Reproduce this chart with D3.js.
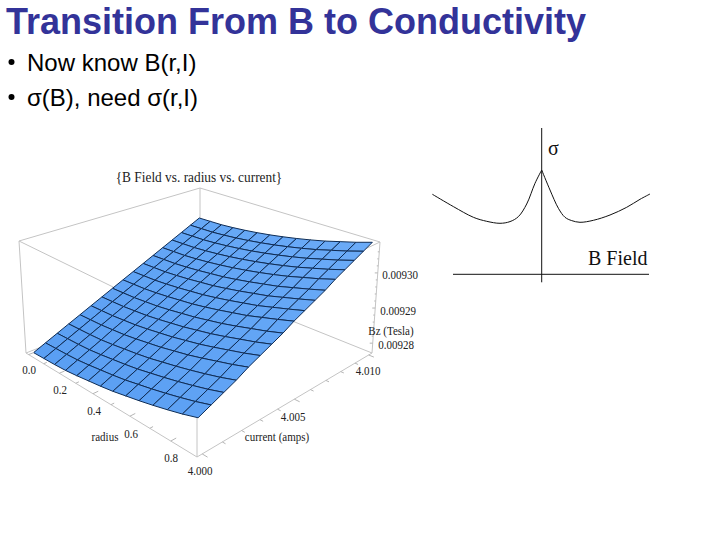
<!DOCTYPE html>
<html><head><meta charset="utf-8">
<script src="https://cdn.jsdelivr.net/npm/d3@7"></script>
<style>html,body{margin:0;padding:0;background:#fff}svg{display:block}</style>
</head><body><svg id="c" width="720" height="540"></svg>
<script>
const titleText = "Transition From B to Conductivity";
const bullets = ["Now know B(r,I)", "σ(B), need σ(r,I)"];
const plotTitle = "{B Field vs. radius vs. current}";

// surface: radius and current samples, Bz stored as 1e-7 T above 0.0092 T
const radiusTicksMajor = [0, 0.2, 0.4, 0.6, 0.8];
const radiusTicksMinor = [0.1, 0.3, 0.5, 0.7];
const currentTicksMajor = [4.000, 4.005, 4.010];
const currentTicksMinor = [4.001, 4.002, 4.003, 4.004, 4.006, 4.007, 4.008, 4.009];
const bzTicksMajor = [0.00928, 0.00929, 0.00930];
const bzTicksMinor = [0.009282, 0.009284, 0.009286, 0.009288, 0.009292, 0.009294, 0.009296, 0.009298, 0.009302, 0.009304, 0.009306];
const radiusSamples = [0, .0692, .1385, .2077, .2769, .3462, .4154, .4846, .5538, .6231, .6923, .7615, .8308, .9];
const currentSamples = [4, 4.000625, 4.00125, 4.001875, 4.0025, 4.003125, 4.00375, 4.004375, 4.005, 4.005625, 4.00625, 4.006875, 4.0075, 4.008125, 4.00875, 4.009375, 4.01];
const bzGrid = [
[772,773,774,776,780,785,790,796,804,812,821,831,842,855],
[786,787,788,790,794,799,804,810,818,826,835,845,856,869],
[800,801,802,804,808,813,818,824,832,840,849,859,870,883],
[814,815,816,818,822,827,832,838,846,854,863,873,884,897],
[828,829,830,833,836,841,847,853,861,869,879,890,901,914],
[842,843,844,847,850,855,861,867,875,883,893,904,915,928],
[856,857,858,861,864,869,875,881,889,897,907,918,929,942],
[870,871,872,875,878,883,889,895,903,911,921,932,943,956],
[884,885,886,889,893,898,903,910,918,927,936,948,960,973],
[898,899,900,903,907,912,917,924,932,941,950,962,974,987],
[912,913,914,917,921,926,931,938,946,955,964,976,988,1001],
[926,927,928,931,935,940,945,952,960,969,978,990,1002,1015],
[940,941,942,945,949,954,960,967,975,984,994,1006,1018,1032],
[954,955,956,959,963,968,974,981,989,998,1008,1020,1032,1046],
[968,969,970,973,977,982,988,995,1003,1012,1022,1034,1046,1060],
[982,983,984,987,991,996,1002,1009,1017,1026,1036,1048,1060,1074],
[996,997,998,1001,1005,1010,1016,1023,1031,1040,1050,1062,1074,1088]
];

// sigma vs B sketch
const fieldLeft  = [-1.093,-.883,-.683,-.55,-.417,-.317,-.233,-.15,-.067,0];
const sigmaLeft  = [.80,.677,.57,.53,.51,.527,.577,.703,.91,1.043];
const fieldRight = [0,.083,.167,.233,.3,.383,.517,.683,.85,.983,1.083];
const sigmaRight = [1.043,.843,.66,.57,.537,.52,.54,.593,.67,.75,.803];

const svg = d3.select("#c");
const serif = "'Liberation Serif','Times New Roman',serif";
const sans = "'Liberation Sans',Arial,sans-serif";
const defs = svg.append("defs");
defs.append("filter").attr("id","soft").append("feGaussianBlur").attr("stdDeviation",0.35);

svg.append("text").attr("x",6).attr("y",33.5).attr("font-family",sans).attr("font-weight","bold")
  .attr("font-size",36).attr("fill","#333399").text(titleText);
svg.selectAll("text.b").data(bullets).enter().append("text").attr("class","b")
  .attr("x",27).attr("y",(d,i)=>[71,105.5][i]).attr("font-family",sans).attr("font-size",24).attr("fill","#000").text(d=>d);
svg.selectAll("circle.b").data(bullets).enter().append("circle").attr("class","b")
  .attr("cx",11.5).attr("cy",(d,i)=>[62,97][i]).attr("r",3).attr("fill","#000");

function homography(q){ // unit square -> quad [00,10,11,01]
  const [[x0,y0],[x1,y1],[x2,y2],[x3,y3]] = q;
  const dx1=x1-x2, dx2=x3-x2, sx=x0-x1+x2-x3, dy1=y1-y2, dy2=y3-y2, sy=y0-y1+y2-y3;
  const den=dx1*dy2-dx2*dy1;
  const g=(sx*dy2-dx2*sy)/den, h=(dx1*sy-sx*dy1)/den;
  const a=x1-x0+g*x1, b=x3-x0+h*x3, d=y1-y0+g*y1, e=y3-y0+h*y3;
  return (u,v)=>{const w=g*u+h*v+1; return [(a*u+b*v+x0)/w,(d*u+e*v+y0)/w];};
}
const floorH = homography([[26,353],[197,457],[372,353],[200,284]]);
const ceilH  = homography([[19,241],[197,328],[380,242],[200,188]]);
const rS = d3.scaleLinear().domain([-0.018,0.918]).range([0,1]);
const iS = d3.scaleLinear().domain([3.99975,4.01025]).range([0,1]);
const zS = d3.scaleLinear().domain([0.0092772,0.0093088]).range([0,1]);
function proj(u,v,w){const a=floorH(u,v),b=ceilH(u,v);return [a[0]+(b[0]-a[0])*w,a[1]+(b[1]-a[1])*w];}
const bzAt=(j,i)=>0.0092+bzGrid[j][i]*1e-7;
const P=(i,j)=>proj(rS(radiusSamples[i]),iS(currentSamples[j]),zS(bzAt(j,i)));

const g3 = svg.append("g").attr("filter","url(#soft)");
const boxEdges = [
 [[0,0,0],[1,0,0]],[[1,0,0],[1,1,0]],[[1,1,0],[0,1,0]],[[0,1,0],[0,0,0]],
 [[0,0,1],[1,0,1]],[[1,0,1],[1,1,1]],[[1,1,1],[0,1,1]],[[0,1,1],[0,0,1]],
 [[0,0,0],[0,0,1]],[[1,0,0],[1,0,1]],[[1,1,0],[1,1,1]],[[0,1,0],[0,1,1]]];
const line=d3.line();
g3.selectAll("path.e").data(boxEdges).enter().append("path").attr("class","e")
  .attr("d",d=>line(d.map(p=>proj(...p)))).attr("stroke","#c4c4c4").attr("stroke-width",1).attr("fill","none");

const shade=d3.scaleLinear().domain([0,1]).range(["#5a9ff3","#6cacf8"]);
const cells=[];
for(let j=currentSamples.length-2;j>=0;j--)for(let i=0;i<radiusSamples.length-1;i++){
  cells.push([[i,j],[i+1,j],[i+1,j+1],[i,j+1]]);
}
g3.selectAll("path.c").data(cells).enter().append("path").attr("class","c")
 .attr("d",d=>line(d.map(([i,j])=>P(i,j)))+"Z")
 .attr("fill",d=>shade(zS(bzAt(d[0][1],d[0][0]))))
 .attr("stroke","#0f2c55").attr("stroke-width",1).attr("stroke-linejoin","round");

function ticks(list,fn,len){
  g3.selectAll(null).data(list).enter().append("path").attr("d",d=>line(fn(d,len))).attr("stroke","#b5b5b5").attr("stroke-width",1).attr("fill","none");
}
const rTick=(r,l)=>[proj(rS(r),0,0),proj(rS(r),-l,0)];
const iTick=(c,l)=>[proj(1,iS(c),0),proj(1-l,iS(c),0)];
const zTick=(z,l)=>{const a=proj(1,1,zS(z));return [a,[a[0]-l*100,a[1]]];};
ticks(radiusTicksMajor,rTick,-0.025);ticks(radiusTicksMinor,rTick,-0.015);
ticks(currentTicksMajor,iTick,-0.025);ticks(currentTicksMinor,iTick,-0.015);
ticks(bzTicksMajor,zTick,0.03);ticks(bzTicksMinor,zTick,0.015);

const lab=(x,y,t,fs,r)=>{
  const el=svg.append("text").attr("x",x).attr("y",y).attr("text-anchor","middle").attr("font-family",serif).attr("font-size",fs||12.5).attr("fill","#222").text(t);
  const w=el.node().getComputedTextLength();
  el.attr("textLength",w*(r||0.88)).attr("lengthAdjust","spacingAndGlyphs");
};
lab(199,182,plotTitle,14.5,0.92);
const rFmt=d3.format(".1f"), iFmt=d3.format(".3f"), zFmt=d3.format(".5f");
const rLab=[[29,374],[60,394],[94,415],[131,438],[171,462]];
radiusTicksMajor.forEach((r,i)=>lab(rLab[i][0],rLab[i][1],rFmt(r)));
const iLab=[[200,475],[293,421],[368,375]];
currentTicksMajor.forEach((c,i)=>lab(iLab[i][0],iLab[i][1],iFmt(c)));
const zLab=[[396,349],[398,315],[400,279]];
bzTicksMajor.forEach((z,i)=>lab(zLab[i][0],zLab[i][1],zFmt(z)));
lab(105,441,"radius");
lab(277,441,"current (amps)");
lab(391,335,"Bz (Tesla)");

const xS=d3.scaleLinear().domain([0,1]).range([541.7,641.7]);
const yS=d3.scaleLinear().domain([0,1]).range([274.3,174.3]);
const curve=d3.line().x(d=>xS(d[0])).y(d=>yS(d[1])).curve(d3.curveCatmullRom);
[[fieldLeft,sigmaLeft],[fieldRight,sigmaRight]].forEach(([f,s])=>{
  svg.append("path").attr("d",curve(f.map((x,i)=>[x,s[i]]))).attr("fill","none").attr("stroke","#111").attr("stroke-width",1);
});
svg.append("line").attr("x1",xS(-0.887)).attr("x2",xS(1.073)).attr("y1",yS(0)).attr("y2",yS(0)).attr("stroke","#111");
svg.append("line").attr("x1",xS(0)).attr("x2",xS(0)).attr("y1",yS(1.463)).attr("y2",yS(-0.08)).attr("stroke","#111");
svg.append("text").attr("x",548).attr("y",155).attr("font-family",serif).attr("font-size",20).attr("fill","#111").text("σ");
svg.append("text").attr("x",588).attr("y",265).attr("font-family",serif).attr("font-size",20).attr("fill","#111").text("B Field");
</script></body></html>
